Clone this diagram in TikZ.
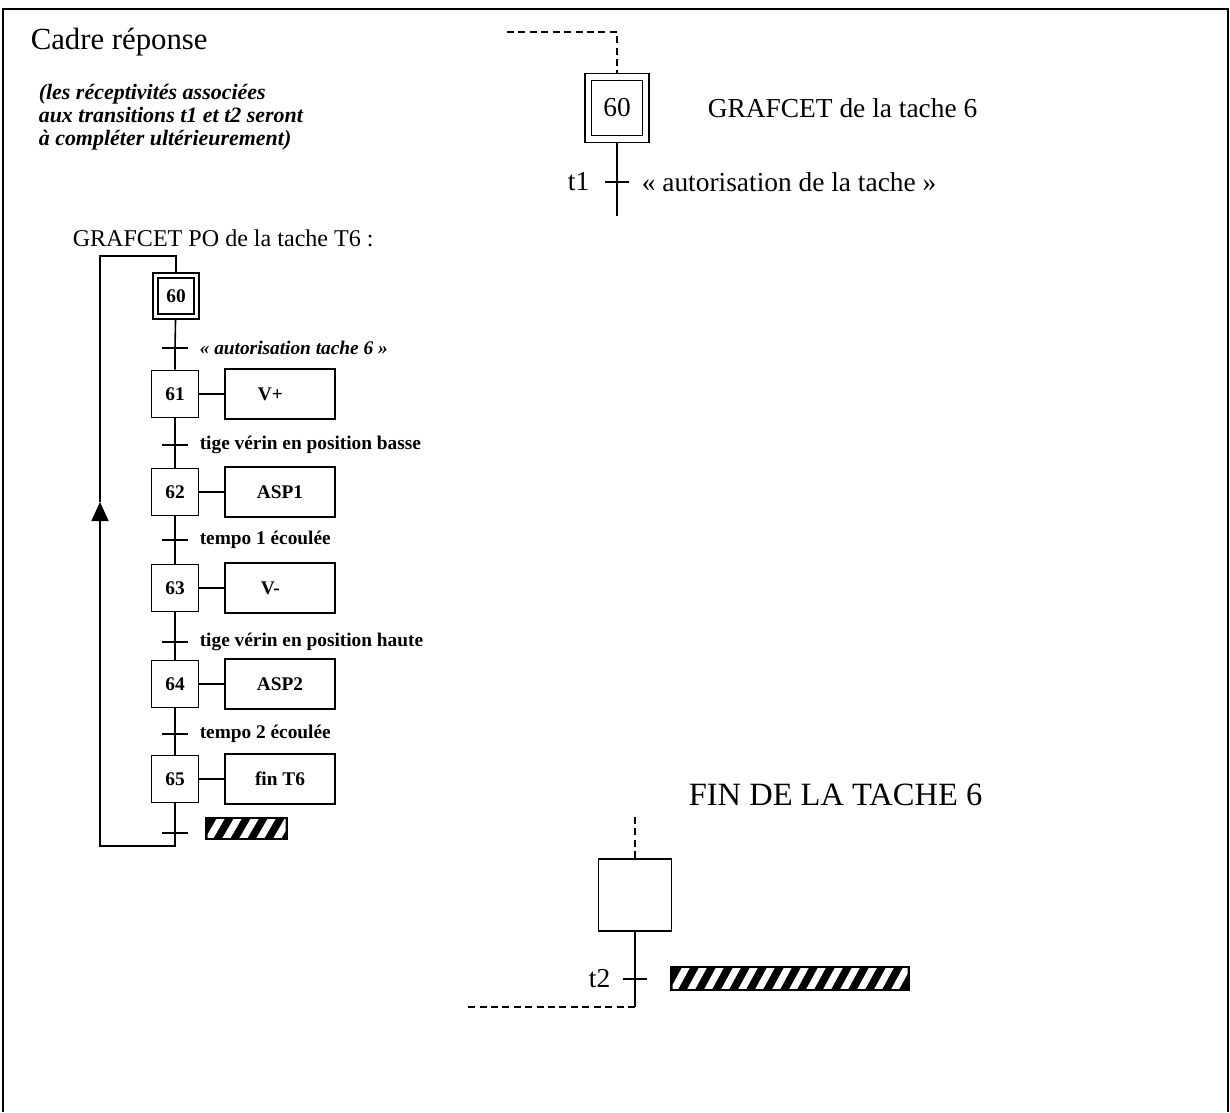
\documentclass[tikz,border=0pt]{standalone}
\usepackage{fontspec}
\setmainfont{Liberation Serif}
\usepackage{tikz}
\usetikzlibrary{calc,arrows.meta}
\newcommand{\hachure}[4]{\fill (#1,#2) rectangle (#3,#4); \begin{scope} \clip ({#1+2.5},{#2+2.5}) rectangle ({#3-2.5},{#4-2.5}); \foreach \k in {0,...,16} \draw[white,line width=4pt] ({#1-16+17*\k},{#4+4}) -- ({#1+2+17*\k},{#2-4}); \end{scope}}

\begin{document}
\begin{tikzpicture}[x=0.02cm,y=-0.02cm,line width=0.9pt,
  petit/.style={font=\fontsize{11}{13}\selectfont\bfseries},
  grand/.style={inner sep=0pt,font=\fontsize{15.6}{18}\selectfont},
  etape/.style={draw,petit,minimum width=0.94cm,minimum height=0.94cm,inner sep=0pt},
  etinit/.style={etape,double,double distance=2.2pt,outer sep=2pt,minimum width=0.82cm,minimum height=0.82cm},
  action/.style={draw,petit,minimum width=2.2cm,minimum height=1cm,inner sep=0pt},
  recep/.style={petit,anchor=west,inner sep=0pt},
  pointille/.style={dash pattern=on 4pt off 2.5pt}]
\useasboundingbox (0,0) rectangle (1230,1112);
\draw (3,1112) -- (3,9) -- (1228,9) -- (1228,1112);
\node[anchor=west,inner sep=0pt,font=\fontsize{17.5}{20}\selectfont] (cadre) at (30,42) {Cadre réponse};
\node[anchor=north west,inner sep=0pt,align=left,font=\fontsize{12.5}{13.1}\selectfont\bfseries\itshape] (note) at (38,83) {(les réceptivités associées\\aux transitions t1 et t2 seront\\à compléter ultérieurement)};
\node[anchor=west,inner sep=0pt,font=\fontsize{13.7}{16}\selectfont] (titre) at (72,238) {GRAFCET PO de la tache T6 :};
\node[etinit] (e60) at (176,296) {60};
\foreach \n/\y/\act in {61/394/V+\kern11pt,62/492/ASP1,63/588/V-\kern11pt,64/684/ASP2,65/779/fin T6}{\node[etape] (e\n) at (175,\y) {\n}; \node[action] (a\n) at (280,\y) {\act}; \draw (e\n) -- (a\n);}
\foreach \n/\m/\y/\txt in {60/61/348/{\itshape « autorisation tache 6 »},61/62/445/tige vérin en position basse,62/63/540/tempo 1 écoulée,63/64/642/tige vérin en position haute,64/65/734/tempo 2 écoulée}{\coordinate (t\n) at (175,\y); \draw (e\n) -- (t\n) -- (e\m); \draw (t\n) +(-13,0) -- +(13,0); \node[recep] (r\n) at (199,\y) {\txt};}
\coordinate (t65) at (175,833); \draw (e65) -- (t65); \draw (t65) +(-13,0) -- +(13,0);
\hachure{205}{817}{288}{840}
\coordinate (bas) at (100,846); \coordinate (fl) at (100,502); \coordinate (haut) at (100,256);
\draw[-{Triangle[length=3.8mm,width=3.4mm]}] (t65) |- (bas) -- (fl);
\draw (fl) -- (haut) -| (e60);
\coordinate (d1) at (507,32);
\node[etinit,double distance=3pt,outer sep=2.4pt,minimum width=1.15cm,minimum height=1.24cm,font=\fontsize{15.6}{18}\selectfont] (E60) at (617,108) {60};
\draw[pointille] (d1) -| (E60);
\coordinate (T1) at (617,182); \coordinate (f1) at (617,216);
\draw (E60) -- (T1) -- (f1); \draw (T1) +(-12,0) -- +(12,0);
\node[grand,anchor=east] (nt1) at (590,182) {t1};
\node[grand,anchor=west] (rt1) at (641,182) {« autorisation de la tache »};
\node[grand,anchor=west] (titre6) at (707,108) {GRAFCET de la tache 6};
\node[anchor=west,inner sep=0pt,font=\fontsize{18.5}{21}\selectfont] (fin) at (688,795) {FIN DE LA TACHE 6};
\node[draw,minimum width=1.46cm,minimum height=1.44cm] (E) at (635,895) {};
\coordinate (d2) at (635,817); \draw[pointille] (d2) -- (E);
\coordinate (T2) at (635,979); \coordinate (d3) at (635,1007); \coordinate (d4) at (467,1007);
\draw (E) -- (T2) -- (d3); \draw[pointille] (d3) -- (d4); \draw (T2) +(-12,0) -- +(12,0);
\node[grand,anchor=east] (nt2) at (611,979) {t2};
\hachure{670}{966}{910}{991}
\end{tikzpicture}
\end{document}
